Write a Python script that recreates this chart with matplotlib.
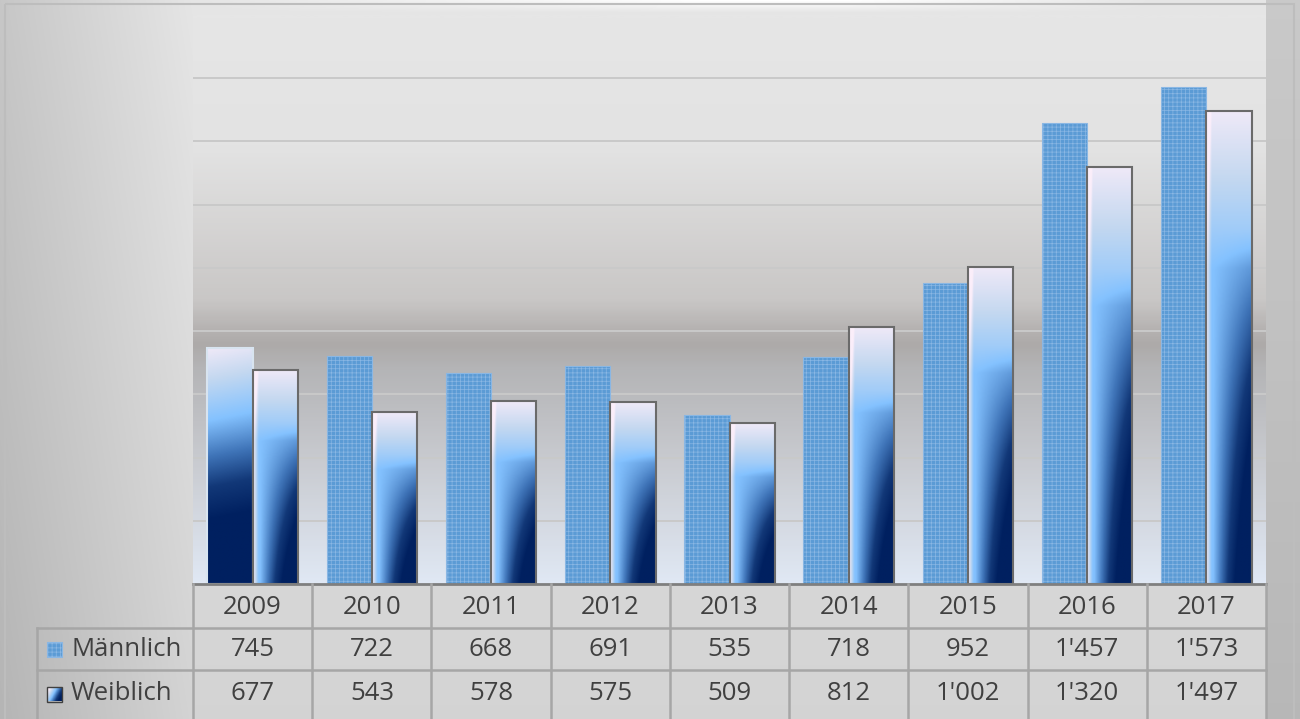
import numpy as np
import matplotlib
matplotlib.use('Agg')
import matplotlib.pyplot as plt
from matplotlib.colors import LinearSegmentedColormap
from matplotlib.patches import Rectangle

years = ['2009', '2010', '2011', '2012', '2013', '2014', '2015', '2016', '2017']
maennlich = [745, 722, 668, 691, 535, 718, 952, 1457, 1573]
weiblich = [677, 543, 578, 575, 509, 812, 1002, 1320, 1497]
series_names = ['Männlich', 'Weiblich']


def fmt(v):
    return f"{v:,}".replace(',', "'")


plt.rcParams['font.family'] = ['Open Sans', 'DejaVu Sans']
plt.rcParams['hatch.linewidth'] = 0.5

W, H = 1300, 719
fig = plt.figure(figsize=(W / 100, H / 100), dpi=100)

# --- figure background (chart area) ---
bg = fig.add_axes([0, 0, 1, 1], zorder=0)
bg.set_xlim(0, W)
bg.set_ylim(H, 0)
bg.axis('off')
xx, yy = np.meshgrid(np.arange(W), np.arange(H))
val = np.where(xx < 193, 0.78 + 0.12 * xx / 193, 0.90)
val = np.where(xx > 1265, 0.79, val)
val = val - 0.07 * yy / H
top_glow = np.clip(1 - yy / 12, 0, 1) * np.clip((xx - 200) / 500, 0, 1) * np.clip((1150 - xx) / 300, 0, 1)
val = np.clip(val + 0.1 * top_glow, 0, 1)
bg.imshow(np.dstack([val, val, val]), extent=[0, W, H, 0], aspect='auto', zorder=0)
bg.add_patch(Rectangle((5, 4), 1289, 730, fill=False, edgecolor='#bdbdbd', linewidth=1.5))

# --- plot area ---
px0, px1, py_top, py_base = 193, 1266, 15, 584
ax = fig.add_axes([px0 / W, 1 - py_base / H, (px1 - px0) / W, (py_base - py_top) / H], zorder=1)
n = len(years)
x = np.arange(n)
ax.set_xlim(-0.5, n - 0.5)
ax.set_ylim(0, 1800)

plot_bg = LinearSegmentedColormap.from_list('pbg', [
    (0.0, '#e6e6e6'), (0.23, '#e3e3e3'), (0.50, '#c9c7c6'), (0.55, '#b6b3b2'),
    (0.58, '#adaaa9'), (0.62, '#b4b4b6'), (0.78, '#c8cacf'), (1.0, '#e0e8f4')])
ax.imshow(np.linspace(0, 1, 300)[:, None], cmap=plot_bg, extent=[-0.5, n - 0.5, 0, 1800],
          aspect='auto', zorder=0)
for g in range(200, 1800, 200):
    ax.axhline(g, color='#c9c9c9', linewidth=1.4, zorder=1)

w_cmap = LinearSegmentedColormap.from_list('wb', [
    (0.0, '#fbeefa'), (0.22, '#c4d8f0'), (0.45, '#84c2ff'), (0.65, '#3f74b8'),
    (0.82, '#123878'), (1.0, '#002060')])
bw = 0.38


def gradient_bar(xc, h, kind):
    x0, x1 = xc - bw / 2, xc + bw / 2
    u, v = np.meshgrid(np.linspace(0, 1, 60), np.linspace(0, 1, 200))
    if kind == 'w':
        a = np.clip(0.05 + 1.2 * v, 0, 0.45)
        b = 0.75 * np.clip((v - 0.25) / 0.75, 0, 1)
        t = a + b * np.clip((u - 0.15) / 0.85, 0, 1) * 1.3
        t = t - 0.4 * np.clip(0.12 - u, 0, None) / 0.12
        edge = '#6a6a6a'
    else:
        t = v * 1.3 + 0.05 + 0.05 * u
        edge = '#d8e4f0'
    t = np.clip(t, 0, 1)
    rect = Rectangle((x0, 0), bw, h, facecolor='none', edgecolor=edge, linewidth=1.5, zorder=4)
    ax.add_patch(rect)
    # row 0 of t is the top of the bar
    im = ax.imshow(t, cmap=w_cmap, vmin=0, vmax=1, extent=[x0, x1, 0, h],
                   aspect='auto', zorder=3, interpolation='bilinear')
    im.set_clip_path(rect)


for i in range(n):
    xm = x[i] - bw / 2
    if i == 0:
        gradient_bar(xm, maennlich[i], 'm')
    else:
        ax.bar(xm, maennlich[i], width=bw, color='#5b9bd5', edgecolor='#8ab7e4',
               hatch='++++', linewidth=0.8, zorder=3)
    gradient_bar(x[i] + bw / 2, weiblich[i], 'w')

ax.set_xlim(-0.5, n - 0.5)
ax.set_ylim(0, 1800)
ax.set_xticks([])
ax.set_yticks([])
for s in ax.spines.values():
    s.set_visible(False)
ax.axhline(0, color='#7f7f7f', linewidth=2, zorder=5, clip_on=False)

# --- data table ---
tb = fig.add_axes([0, 0, 1, 1], zorder=2)
tb.set_xlim(0, W)
tb.set_ylim(H, 0)
tb.axis('off')
tb.patch.set_alpha(0)
line_c = '#a6a6a6'
col_w = (px1 - px0) / n
rows_y = [587, 628, 670, 719]
hdr_x0 = 37
for k in range(n + 1):
    xl = px0 + k * col_w
    tb.plot([xl, xl], [py_base, H], color=line_c, linewidth=1.8)
tb.plot([hdr_x0, hdr_x0], [rows_y[1], H], color=line_c, linewidth=1.8)
tb.plot([hdr_x0, px1], [rows_y[1], rows_y[1]], color=line_c, linewidth=1.8)
tb.plot([hdr_x0, px1], [rows_y[2], rows_y[2]], color=line_c, linewidth=1.8)

txt_c = '#404040'
fs = 18.5
for k, yr in enumerate(years):
    xc = px0 + (k + 0.5) * col_w
    tb.text(xc, (rows_y[0] + rows_y[1]) / 2, yr, ha='center', va='center', fontsize=fs, color=txt_c)
    tb.text(xc, (rows_y[1] + rows_y[2]) / 2, fmt(maennlich[k]), ha='center', va='center',
            fontsize=fs, color=txt_c)
    tb.text(xc, (rows_y[2] + rows_y[3]) / 2 - 1, fmt(weiblich[k]), ha='center', va='center',
            fontsize=fs, color=txt_c)

# row headers with legend keys
for r, name in enumerate(series_names):
    yc = (rows_y[r + 1] + rows_y[r + 2]) / 2 - (1 if r == 1 else 0)
    if r == 0:
        tb.add_patch(Rectangle((47, yc - 7), 15, 15, facecolor='#5b9bd5', edgecolor='#8ab7e4',
                               hatch='++++', linewidth=0.8))
    else:
        key = Rectangle((47, yc - 7), 15, 15, facecolor='none', edgecolor='#404040', linewidth=1)
        tb.add_patch(key)
        u, v = np.meshgrid(np.linspace(0, 1, 20), np.linspace(0, 1, 20))
        im = tb.imshow(np.clip(u * 0.9 + v * 0.5 - 0.2, 0, 1), cmap=w_cmap, vmin=0, vmax=1,
                       extent=[47, 62, yc + 8, yc - 7], aspect='auto')
        im.set_clip_path(key)
    tb.text(71, yc, name, ha='left', va='center', fontsize=fs, color=txt_c)

tb.set_xlim(0, W)
tb.set_ylim(H, 0)

fig.savefig('out.png', dpi=100)
